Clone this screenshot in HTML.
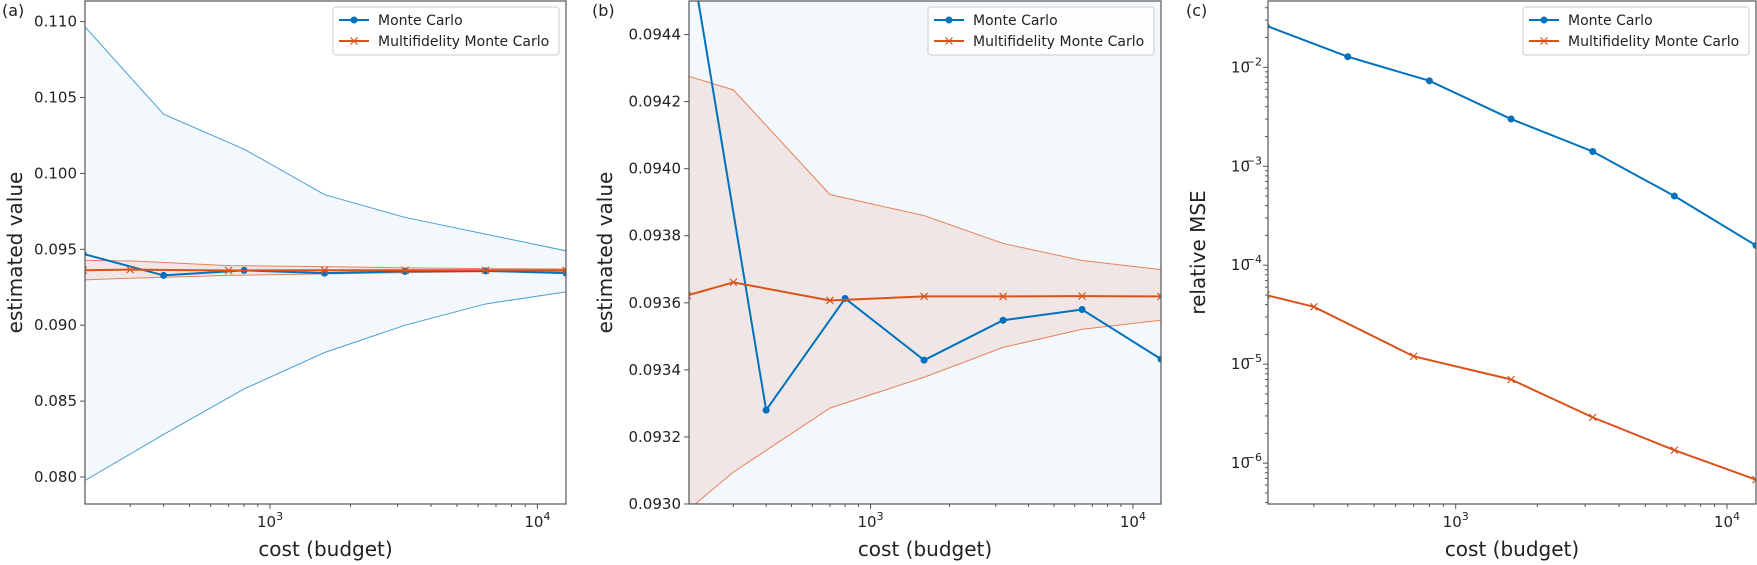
<!DOCTYPE html>
<html><head><meta charset="utf-8">
<style>
html,body{margin:0;padding:0;background:#fff;overflow:hidden;width:1757px;height:565px;}
svg{display:block;font-family:"DejaVu Sans","Liberation Sans",sans-serif;overflow:hidden;}
</style></head>
<body>
<svg id="fig" width="1757" height="565" viewBox="0 0 1757 565" xmlns="http://www.w3.org/2000/svg"></svg>
<script>
// ---- data ----
const mcCost = [200, 400, 800, 1600, 3200, 6400, 12800];
const mfCost = [200, 300, 700, 1600, 3200, 6400, 12800];
const mcMean = [0.0947, 0.09328, 0.093613, 0.093429, 0.093548, 0.09358, 0.093432];
const mcUpper = [0.1098, 0.1039, 0.1016, 0.0986, 0.0971, 0.0960, 0.0949];
const mcLower = [0.0797, 0.0828, 0.0858, 0.0882, 0.0900, 0.0914, 0.0922];
const mfMean = [0.093622, 0.093661, 0.093607, 0.093619, 0.093619, 0.09362, 0.093619];
const mfUpper = [0.094277, 0.094235, 0.093923, 0.09386, 0.093777, 0.093726, 0.093699];
const mfLower = [0.09298, 0.093095, 0.093286, 0.093378, 0.093467, 0.093521, 0.093548];
const mcMSE = [0.0263, 0.0128, 0.0073, 0.0030, 0.00141, 0.0005, 0.000158];
const mfMSE = [5.0e-5, 3.8e-5, 1.2e-5, 7.0e-6, 2.9e-6, 1.35e-6, 6.8e-7];
const yTicksA = [0.080, 0.085, 0.090, 0.095, 0.100, 0.105, 0.110];
const yTicksB = [0.0930, 0.0932, 0.0934, 0.0936, 0.0938, 0.0940, 0.0942, 0.0944];
const yTicksC = [-6, -5, -4, -3, -2];
const xTickExp = [3, 4];

const NS = "http://www.w3.org/2000/svg";
const svg = document.getElementById("fig");
const BLUE = "#0072BD", ORANGE = "#D95319";
function el(tag, attrs, parent) {
  const e = document.createElementNS(NS, tag);
  for (const k in attrs) e.setAttribute(k, attrs[k]);
  (parent || svg).appendChild(e);
  return e;
}
const XMIN = 2.308, XMAX = 4.107, TOP = 1, BOT = 504;

function makePanel(cfg) {
  const g = el("g", {});
  
  
  const L = cfg.left, R = cfg.right;
  const sx = c => L + (Math.log10(c) - XMIN) / (XMAX - XMIN) * (R - L);
  const sy = v => {
    const t = cfg.log ? Math.log10(v) : v;
    return BOT - (t - cfg.ymin) / (cfg.ymax - cfg.ymin) * (BOT - TOP);
  };
  const clipId = "clip-" + cfg.name;
  const cp = el("clipPath", {id: clipId}, g);
  el("rect", {x: L, y: TOP, width: R - L, height: BOT - TOP}, cp);
  const plot = el("g", {"clip-path": "url(#" + clipId + ")"}, g);
  const pts = (xs, ys) => xs.map((x, i) => sx(x).toFixed(2) + "," + sy(ys[i]).toFixed(2)).join(" ");
  function band(xs, lo, hi, fill, stroke, name) {
    const poly = el("polygon", {points: pts(xs, hi) + " " + pts(xs.slice().reverse(), lo.slice().reverse()), fill: fill, stroke: "none"}, plot);
    
    
    const u = el("polyline", {points: pts(xs, hi), fill: "none", stroke: stroke, "stroke-width": 1}, plot);
    
    
    const d = el("polyline", {points: pts(xs, lo), fill: "none", stroke: stroke, "stroke-width": 1}, plot);
    
    
  }
  function series(xs, ys, color, marker, name) {
    const l = el("polyline", {points: pts(xs, ys), fill: "none", stroke: color, "stroke-width": 2}, plot);
    
    
    xs.forEach((x, i) => {
      const cx = sx(x), cy = sy(ys[i]);
      let m;
      if (marker === "o") m = el("circle", {cx: cx, cy: cy, r: 3.5, fill: color}, plot);
      else m = el("path", {d: `M${cx-3.5},${cy-3.5}L${cx+3.5},${cy+3.5}M${cx-3.5},${cy+3.5}L${cx+3.5},${cy-3.5}`, stroke: color, "stroke-width": 1.2, fill: "none"}, plot);
      
      
    });
  }
  if (cfg.bands) {
    band(mcCost, mcLower, mcUpper, "rgba(0,114,189,0.05)", "#4a9fd8", "monte-carlo");
    band(mfCost, mfLower, mfUpper, "rgba(217,83,25,0.10)", "#e8825a", "multifidelity");
    series(mcCost, mcMean, BLUE, "o", "monte-carlo");
    series(mfCost, mfMean, ORANGE, "x", "multifidelity");
  } else {
    series(mcCost, mcMSE, BLUE, "o", "monte-carlo-mse");
    series(mfCost, mfMSE, ORANGE, "x", "multifidelity-mse");
  }
  const sp = el("rect", {x: L, y: TOP, width: R - L, height: BOT - TOP, fill: "none", stroke: "#555", "stroke-width": 1.2}, g);
  
  
  for (let e = 2; e <= 4; e++) for (let k = 1; k <= 9; k++) {
    const v = k * Math.pow(10, e), lg = Math.log10(v);
    if (lg < XMIN || lg > XMAX) continue;
    const x = sx(v);
    el("line", {x1: x, y1: BOT, x2: x, y2: BOT + (k === 1 ? 5 : 3), stroke: "#555", "stroke-width": 1}, g);
  }
  xTickExp.forEach(e => {
    const t = el("text", {x: sx(Math.pow(10, e)), y: 527, "font-size": 15, "text-anchor": "middle", fill: "#222"}, g);
    
    
    t.innerHTML = '10<tspan dy="-7" font-size="11">' + e + '</tspan>';
  });
  if (cfg.log) {
    for (let e = -7; e <= -1; e++) for (let k = 1; k <= 9; k++) {
      const v = k * Math.pow(10, e), lg = Math.log10(v);
      if (lg < cfg.ymin || lg > cfg.ymax) continue;
      const y = sy(v);
      el("line", {x1: L, y1: y, x2: L - (k === 1 ? 5 : 3), y2: y, stroke: "#555", "stroke-width": 1}, g);
    }
    yTicksC.forEach(e => {
      const t = el("text", {x: L - 18, y: sy(Math.pow(10, e)) + 5, "font-size": 15, "text-anchor": "end", fill: "#222"}, g);
      
      
      t.textContent = "10";
      const s = el("text", {x: L - 6, y: sy(Math.pow(10, e)) - 2, "font-size": 11, "text-anchor": "end", fill: "#222"}, g);
      
      
      s.textContent = "\u2212" + (-e);
    });
  } else {
    cfg.yticks.forEach(v => {
      const y = sy(v);
      el("line", {x1: L, y1: y, x2: L - 5, y2: y, stroke: "#555", "stroke-width": 1}, g);
      const t = el("text", {x: L - 8, y: y + 5, "font-size": 15, "text-anchor": "end", fill: "#222"}, g);
      
      
      t.textContent = v.toFixed(cfg.dec);
    });
  }
  const xl = el("text", {x: (L + R) / 2, y: 556, "font-size": 20, "text-anchor": "middle", fill: "#222"}, g);
  
  
  xl.textContent = "cost (budget)";
  const yl = el("text", {x: 0, y: 0, "font-size": 20, "text-anchor": "middle", fill: "#222", transform: `translate(${cfg.ylabX},${(TOP + BOT) / 2}) rotate(-90)`}, g);
  
  
  yl.textContent = cfg.ylabel;
  const pl = el("text", {x: cfg.tagX, y: 16, "font-size": 16, fill: "#222"}, g);
  
  
  pl.textContent = cfg.tag;
  const lg = el("g", {}, g);
  
  
  const lx = R - 233, ly = 7;
  el("rect", {x: lx, y: ly, width: 226, height: 48, rx: 3, fill: "rgba(255,255,255,0.85)", stroke: "#ccc", "stroke-width": 1}, lg);
  const rows = [["Monte Carlo", BLUE, "o"], ["Multifidelity Monte Carlo", ORANGE, "x"]];
  rows.forEach((r, i) => {
    const y = ly + 13 + i * 21;
    const e = el("g", {}, lg);
    
    
    el("line", {x1: lx + 6, y1: y, x2: lx + 36, y2: y, stroke: r[1], "stroke-width": 2}, e);
    if (r[2] === "o") el("circle", {cx: lx + 21, cy: y, r: 3.5, fill: r[1]}, e);
    else el("path", {d: `M${lx+17.5},${y-3.5}L${lx+24.5},${y+3.5}M${lx+17.5},${y+3.5}L${lx+24.5},${y-3.5}`, stroke: r[1], "stroke-width": 1.2}, e);
    const t = el("text", {x: lx + 45, y: y + 5, "font-size": 14, fill: "#222"}, e);
    t.textContent = r[0];
  });
}

makePanel({name: "panel-a", left: 85, right: 566, ymin: 0.07822, ymax: 0.11136, yticks: yTicksA, dec: 3, bands: true, ylabel: "estimated value", ylabX: 22, tag: "(a)", tagX: 2});
makePanel({name: "panel-b", left: 689, right: 1161, ymin: 0.0930, ymax: 0.09450, yticks: yTicksB, dec: 4, bands: true, ylabel: "estimated value", ylabX: 612, tag: "(b)", tagX: 592});
makePanel({name: "panel-c", left: 1268, right: 1756, log: true, ymin: -6.413, ymax: -1.33, bands: false, ylabel: "relative MSE", ylabX: 1205, tag: "(c)", tagX: 1186});
</script>
</body></html>
